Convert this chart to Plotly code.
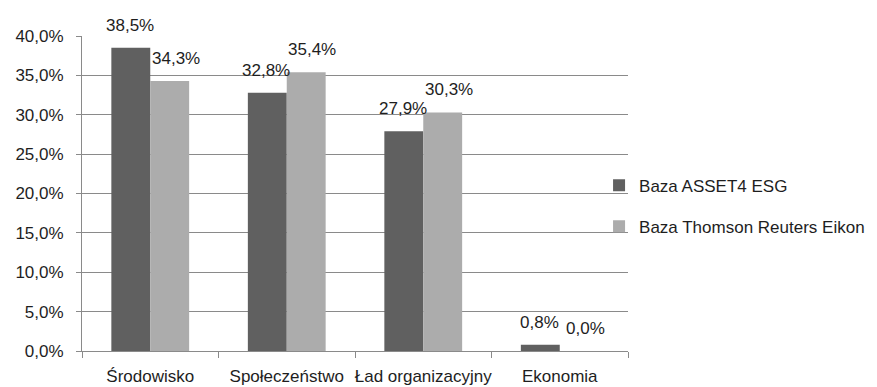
import plotly.graph_objects as go

# Udział kategorii ESG w obu bazach danych
categories = ["Środowisko", "Społeczeństwo", "Ład organizacyjny", "Ekonomia"]
asset4 = [38.5, 32.8, 27.9, 0.8]
eikon = [34.3, 35.4, 30.3, 0.0]
series_names = ["Baza ASSET4 ESG", "Baza Thomson Reuters Eikon"]
y_ticks = [0, 5, 10, 15, 20, 25, 30, 35, 40]
y_tick_labels = [f"{v:.1f}%".replace(".", ",") for v in y_ticks]

FONT = "Liberation Sans"
TEXT = "#1e1e1e"
DARK = "#606060"
LIGHT = "#acacac"
GRID = "#8a8a8a"

W, H = 877, 387
M_L, M_R, M_T, M_B = 82, 249, 36, 36
BARGAP = 0.43

fig = go.Figure()
for i, (name, vals, col) in enumerate([(series_names[0], asset4, DARK),
                                       (series_names[1], eikon, LIGHT)]):
    fig.add_trace(go.Bar(
        x=categories, y=vals, name=name, legendgroup=f"g{i}",
        marker=dict(color=col, line=dict(width=0)),
    ))

# value labels placed above each bar of the group
plot_w = W - M_L - M_R
bar_w = plot_w / len(categories) * (1 - BARGAP) / 2
for vals, shift in [(asset4, -bar_w / 2 - 1), (eikon, bar_w / 2 + 6)]:
    for c, v in zip(categories, vals):
        fig.add_annotation(
            x=c, y=v, text=f"{v:.1f}%".replace(".", ","),
            showarrow=False, xanchor="center", yanchor="bottom",
            xshift=shift, yshift=11,
            font=dict(family=FONT, size=17, color=TEXT),
        )

fig.update_layout(
    width=W, height=H,
    margin=dict(l=M_L, r=M_R, t=M_T, b=M_B, pad=0, autoexpand=False),
    paper_bgcolor="white", plot_bgcolor="white",
    barmode="group", bargap=BARGAP, bargroupgap=0,
    font=dict(family=FONT, size=17, color=TEXT),
    showlegend=True,
    legend=dict(
        x=0.947, y=0.46, xanchor="left", yanchor="middle",
        font=dict(family=FONT, size=17, color=TEXT),
        bgcolor="rgba(0,0,0,0)", tracegroupgap=16,
        itemwidth=30,
    ),
    xaxis=dict(
        type="category", tickson="boundaries", ticks="outside", ticklen=6,
        tickcolor=GRID, showline=True, linecolor=GRID, linewidth=1,
        showgrid=False, tickangle=0, automargin=False, ticklabelstandoff=10,
        tickfont=dict(family=FONT, size=17, color=TEXT),
    ),
    yaxis=dict(
        range=[0, 40], tickmode="array", tickvals=y_ticks, ticktext=y_tick_labels,
        ticks="outside", ticklen=5, tickcolor=GRID, automargin=False,
        ticklabelstandoff=9,
        showline=True, linecolor=GRID, linewidth=1,
        showgrid=True, gridcolor=GRID, gridwidth=1, zeroline=False,
        tickfont=dict(family=FONT, size=17, color=TEXT),
    ),
)

fig.write_html("out.html")
